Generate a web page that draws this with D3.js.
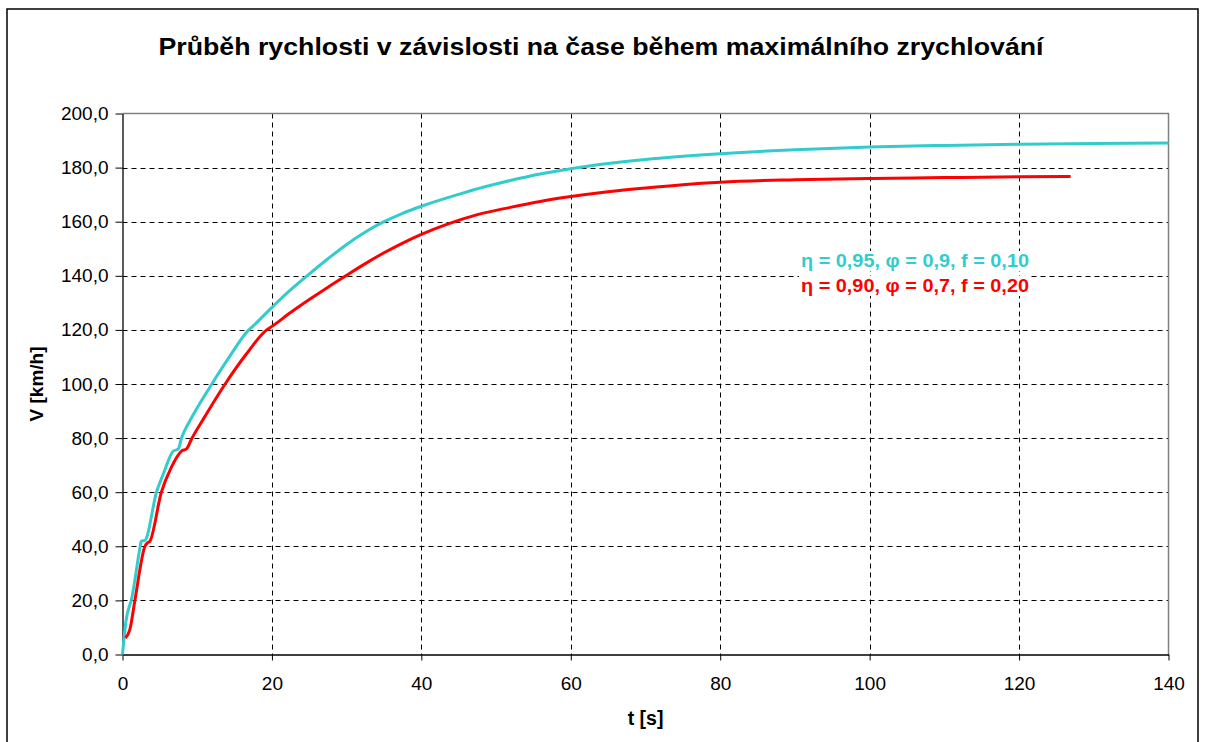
<!DOCTYPE html>
<html>
<head>
<meta charset="utf-8">
<script src="https://cdn.jsdelivr.net/npm/d3@7"></script>
<style>
  html, body { margin: 0; padding: 0; background: #fff; }
  svg { display: block; font-family: "Liberation Sans", Arial, sans-serif; }
</style>
</head>
<body>
<svg id="chart" width="1205" height="742"></svg>
<script>
// Chart texts
const chartTitle = "Průběh rychlosti v závislosti na čase během maximálního zrychlování";
const xLabel = "t [s]";
const yLabel = "V [km/h]";

// Axis ticks
const xTicks = [0, 20, 40, 60, 80, 100, 120, 140];
const yTicks = [0, 20, 40, 60, 80, 100, 120, 140, 160, 180, 200];

// Series 1: η = 0,95, φ = 0,9, f = 0,10  — time [s]
const seriesAName = "η = 0,95, φ = 0,9, f = 0,10";
const seriesAT = [0, 0.45, 1.25, 2.37, 2.5, 3.0, 4.55, 5.5, 6.8, 7.45, 7.9, 9.0, 10.5, 11.96, 14.3, 16.9, 17.5, 20, 22.3, 24.7, 27.5, 30, 32.5, 35, 37.5, 40, 45, 48.5, 51.9, 55.9, 60, 65, 70, 80, 90, 100, 110, 120, 130, 140];
// speed [km/h]
const seriesAV = [0, 12, 21, 40, 41.9, 42.2, 60, 67, 75.2, 75.9, 80, 86.3, 93.5, 100, 110, 120, 121.5, 128.3, 134.3, 140, 146.3, 151.6, 156.2, 160, 163.1, 165.7, 170.1, 172.9, 175.2, 177.6, 179.6, 181.5, 183.0, 185.1, 186.6, 187.6, 188.2, 188.6, 188.9, 189.1];

// Series 2: η = 0,90, φ = 0,7, f = 0,20  — time [s]
const seriesBName = "η = 0,90, φ = 0,7, f = 0,20";
const seriesBT = [0.4, 0.98, 1.66, 3.0, 3.35, 3.65, 5.2, 6.5, 7.9, 8.57, 9.3, 10.66, 13.74, 16.5, 19.3, 20, 22.5, 25, 27.5, 30, 32.5, 35, 37.5, 40, 43.4, 47.5, 51.9, 55.9, 60, 65, 70, 75, 80, 90, 100, 110, 120, 126.9];
// speed [km/h]
const seriesBV = [6.1, 9.2, 20, 40, 41.3, 41.8, 60, 69, 75.2, 76, 80, 86.3, 100, 110.8, 120, 121.3, 126.4, 131.2, 135.8, 140.2, 144.5, 148.5, 152.1, 155.3, 159, 162.6, 165.3, 167.5, 169.3, 171.1, 172.5, 173.7, 174.6, 175.5, 176, 176.3, 176.6, 176.7];

const series = [
  { name: seriesAName, t: seriesAT, v: seriesAV, color: "#33CCCC" },
  { name: seriesBName, t: seriesBT, v: seriesBV, color: "#FF0000" }
];

const svg = d3.select("#chart");

// outer chart frame
svg.append("rect")
  .attr("x", 7).attr("y", 9)
  .attr("width", 1191).attr("height", 760)
  .attr("fill", "#fff")
  .attr("stroke", "#000")
  .attr("stroke-width", 1.5);

const plot = { left: 122.5, right: 1168.5, top: 113.5, bottom: 654.5 };

const x = d3.scaleLinear().domain([0, 140]).range([plot.left, plot.right]);
const y = d3.scaleLinear().domain([0, 200]).range([plot.bottom, plot.top]);

// gridlines
const grid = svg.append("g").attr("stroke", "#000").attr("stroke-width", 1).attr("stroke-dasharray", "5,4");
grid.selectAll("line.gy").data(yTicks.filter(d => d > 0 && d < 200)).join("line")
  .attr("x1", plot.left).attr("x2", plot.right)
  .attr("y1", d => Math.round(y(d)) + 0.5).attr("y2", d => Math.round(y(d)) + 0.5);
grid.selectAll("line.gx").data(xTicks.filter(d => d > 0 && d < 140)).join("line")
  .attr("y1", plot.top).attr("y2", plot.bottom)
  .attr("x1", d => Math.round(x(d)) + 0.5).attr("x2", d => Math.round(x(d)) + 0.5);

// plot area top/right border
svg.append("path")
  .attr("d", `M${plot.left},${plot.top}H${plot.right}V${plot.bottom}`)
  .attr("fill", "none").attr("stroke", "#808080").attr("stroke-width", 1.5);

// axes
const xAxis = d3.axisBottom(x).tickValues(xTicks).tickSizeInner(6).tickSizeOuter(0).tickPadding(16).tickFormat(d3.format("d"));
const yAxis = d3.axisLeft(y).tickValues(yTicks).tickSizeInner(7).tickSizeOuter(0).tickPadding(7)
  .tickFormat(d => d3.format(".1f")(d).replace(".", ","));

const gx = svg.append("g").attr("transform", `translate(0,${plot.bottom})`).call(xAxis);
const gy = svg.append("g").attr("transform", `translate(${plot.left},0)`).call(yAxis);
[gx, gy].forEach(g => {
  g.select(".domain").attr("stroke", "#000").attr("stroke-width", 1.3);
  g.selectAll(".tick line").attr("stroke", "#000");
  g.selectAll(".tick text").attr("fill", "#000").style("font-size", "19px")
    .style("font-family", '"Liberation Sans", Arial, sans-serif');
});

// series lines
const line = d3.line().x(d => x(d[0])).y(d => y(d[1])).curve(d3.curveMonotoneX);
series.forEach(s => {
  svg.append("path")
    .datum(d3.zip(s.t, s.v))
    .attr("fill", "none")
    .attr("stroke", s.color)
    .attr("stroke-width", 3)
    .attr("stroke-linejoin", "round")
    .attr("d", line);
});

// title
svg.append("text")
  .attr("x", 601).attr("y", 55)
  .attr("text-anchor", "middle")
  .attr("textLength", 885).attr("lengthAdjust", "spacingAndGlyphs")
  .style("font-size", "23.5px").style("font-weight", "bold")
  .text(chartTitle);

// axis titles
svg.append("text")
  .attr("x", (plot.left + plot.right) / 2).attr("y", 725)
  .attr("text-anchor", "middle")
  .style("font-size", "19.5px").style("font-weight", "bold")
  .text(xLabel);
svg.append("text")
  .attr("transform", `translate(43,${(plot.top + plot.bottom) / 2}) rotate(-90)`)
  .attr("text-anchor", "middle")
  .style("font-size", "19px").style("font-weight", "bold")
  .text(yLabel);

// series labels inside the plot
const labels = svg.append("g");
series.forEach((s, i) => {
  const t = labels.append("text")
    .attr("x", 801).attr("y", 267 + i * 25)
    .attr("fill", s.color)
    .attr("textLength", 228).attr("lengthAdjust", "spacingAndGlyphs")
    .style("font-size", "18px").style("font-weight", "bold")
    .text(s.name);
  const b = t.node().getBBox();
  labels.insert("rect", "text")
    .attr("x", b.x - 2).attr("y", b.y).attr("width", b.width + 4).attr("height", b.height)
    .attr("fill", "#fff");
});
</script>
</body>
</html>
